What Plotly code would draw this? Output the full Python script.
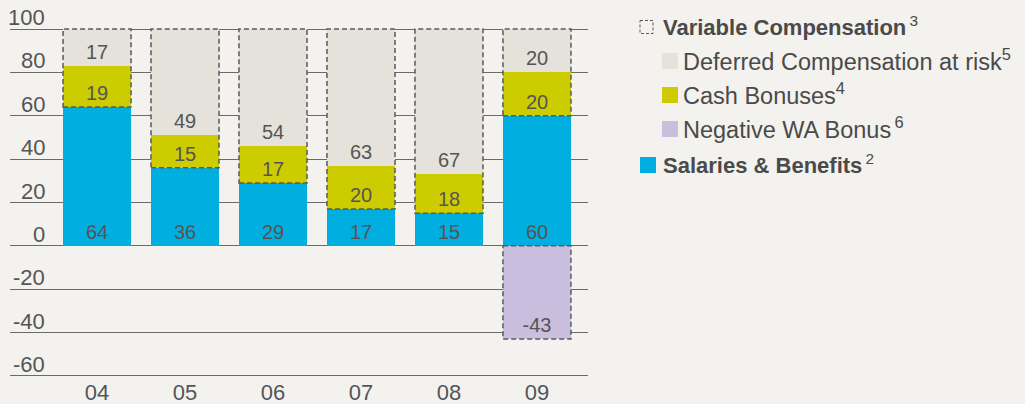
import plotly.graph_objects as go

years = ["04", "05", "06", "07", "08", "09"]
salaries = [64, 36, 29, 17, 15, 60]
cash = [19, 15, 17, 20, 18, 20]
deferred = [17, 49, 54, 63, 67, 20]
negative = [None, None, None, None, None, -43]
ytick_vals = [-60, -40, -20, 0, 20, 40, 60, 80, 100]

BG = "#F3F2EE"
BLUE = "#00AEE0"
YELLOW = "#CCCC00"
GREY = "#E5E2DC"
LILAC = "#C9BEDD"
TXT = "#555555"
DASH = "#5a5a5a"
FONT = "Liberation Sans, Arial, sans-serif"

W, H = 1025, 404
T, B = 28, 27
PH = H - T - B
BW = 0.773

def px2x(px):
    return px / W

def px2y(py):
    return (H - B - py) / PH

xs = list(range(len(years)))

fig = go.Figure()

def add_bar(vals, color, anchor):
    fig.add_trace(go.Bar(
        x=xs, y=vals, width=BW, marker=dict(color=color, line=dict(width=0)),
        text=[("" if v is None else str(v)) for v in vals],
        textposition="inside", insidetextanchor=anchor,
        textfont=dict(size=20, color=TXT, family=FONT),
        constraintext="none", showlegend=False, hoverinfo="skip"))

add_bar(salaries, BLUE, "start")
add_bar(cash, YELLOW, "start")
add_bar(deferred, GREY, "start")
add_bar(negative, LILAC, "end")

shapes = []
for i, x in enumerate(xs):
    base = salaries[i]
    top = salaries[i] + cash[i] + deferred[i]
    shapes.append(dict(type="rect", xref="x", yref="y", x0=x - BW / 2, x1=x + BW / 2,
                       y0=base, y1=top, line=dict(color=DASH, width=1.5, dash="5px,3px"),
                       fillcolor="rgba(0,0,0,0)", layer="above"))
    if negative[i] is not None:
        shapes.append(dict(type="rect", xref="x", yref="y", x0=x - BW / 2, x1=x + BW / 2,
                           y0=0, y1=negative[i], line=dict(color=DASH, width=1.5, dash="5px,3px"),
                           fillcolor="rgba(0,0,0,0)", layer="above"))

annotations = []
for v in ytick_vals:
    annotations.append(dict(xref="paper", yref="y", x=px2x(47), y=v, text=str(v),
                            xanchor="right", yanchor="bottom", showarrow=False,
                            font=dict(size=22, color=TXT, family=FONT), yshift=-3))

# custom legend
legend_rows = [
    ("<b>Variable Compensation</b><sup>\u20093</sup>", None, 661, 26, 640, 13, 22),
    ("Deferred Compensation at risk<sup>5</sup>", GREY, 681, 60, 662, 16, 23.5),
    ("Cash Bonuses<sup>4</sup>", YELLOW, 681, 94, 662, 16, 23.5),
    ("Negative WA Bonus<sup>\u20096</sup>", LILAC, 681, 128, 662, 16, 23.5),
    ("<b>Salaries & Benefits</b><sup>\u20092</sup>", BLUE, 661, 164, 640, 16, 22),
]
for text, color, tx, cy, sx, sz, fs in legend_rows:
    annotations.append(dict(xref="paper", yref="paper", x=px2x(tx), y=px2y(cy), text=text,
                            xanchor="left", yanchor="middle", showarrow=False,
                            font=dict(size=fs, color="#4a4a4a", family=FONT)))
    if color is None:
        shapes.append(dict(type="rect", xref="paper", yref="paper",
                           x0=px2x(sx), x1=px2x(sx + sz), y0=px2y(cy - sz / 2 + 1), y1=px2y(cy + sz / 2 + 1),
                           line=dict(color=DASH, width=1, dash="3px,2px"), fillcolor="rgba(0,0,0,0)"))
    else:
        shapes.append(dict(type="rect", xref="paper", yref="paper",
                           x0=px2x(sx), x1=px2x(sx + sz), y0=px2y(cy - sz / 2 + 1), y1=px2y(cy + sz / 2 + 1),
                           line=dict(width=0), fillcolor=color))

fig.update_layout(
    width=W, height=H,
    margin=dict(l=0, r=0, t=T, b=B, pad=0),
    paper_bgcolor=BG, plot_bgcolor=BG,
    barmode="relative", bargap=0,
    font=dict(family=FONT, color=TXT),
    xaxis=dict(domain=[px2x(10), px2x(588)], range=[-0.989, 5.58],
               tickvals=xs, ticktext=years, tickfont=dict(size=22, color=TXT, family=FONT),
               showgrid=False, zeroline=False, showline=False, ticks=""),
    yaxis=dict(range=[-60.5, 100.5], tickvals=ytick_vals, showticklabels=False,
               showgrid=True, gridcolor="#6a6a6a", gridwidth=1.3, zeroline=False, showline=False),
    shapes=shapes, annotations=annotations,
    uniformtext=dict(mode=False),
)

fig.write_html("out.html", config={"displayModeBar": False},
               post_script="document.body.style.margin='0px';document.body.style.background='" + BG + "';")
